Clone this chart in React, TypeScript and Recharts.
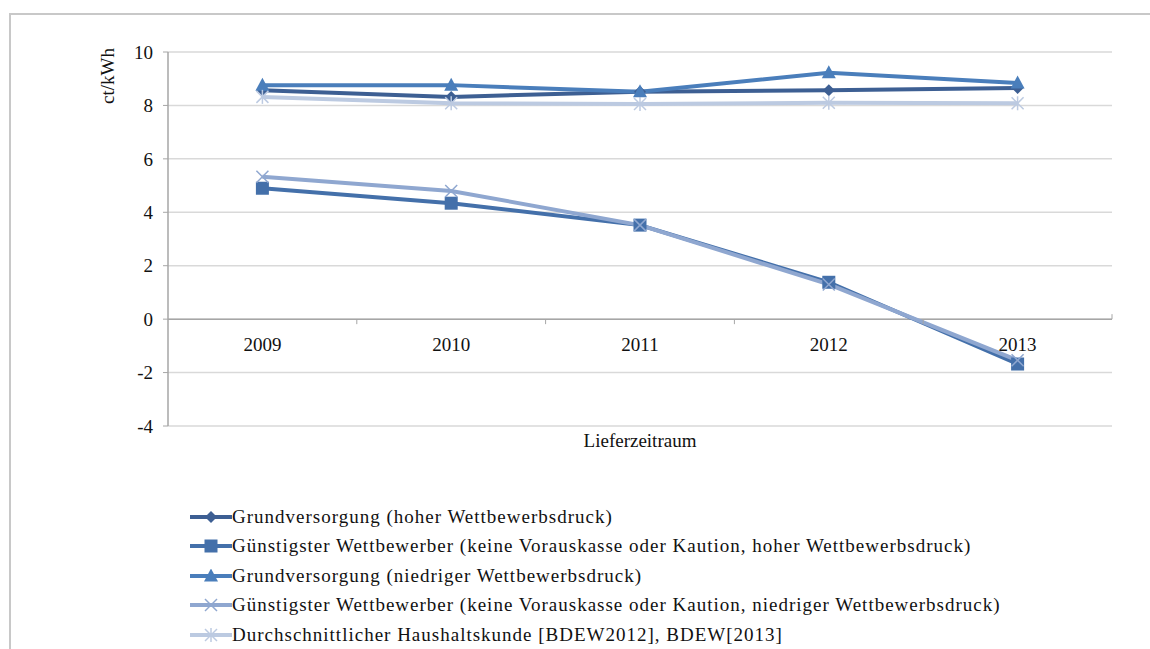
import React from 'react';
import { LineChart, Line, XAxis, YAxis, CartesianGrid, ReferenceLine } from 'recharts';

// Kategorien und Werte (ct/kWh)
const JAHRE = ['2009', '2010', '2011', '2012', '2013'];
const GV_HOCH = [8.57, 8.32, 8.51, 8.57, 8.65];
const GW_HOCH = [4.9, 4.34, 3.52, 1.38, -1.68];
const GV_NIEDRIG = [8.76, 8.76, 8.51, 9.22, 8.84];
const GW_NIEDRIG = [5.33, 4.8, 3.52, 1.3, -1.54];
const DURCHSCHNITT = [8.32, 8.08, 8.05, 8.1, 8.08];
const Y_TICKS = [-4, -2, 0, 2, 4, 6, 8, 10];

const SERIES = [
  { key: 'gvHoch', name: 'Grundversorgung (hoher Wettbewerbsdruck)', color: '#3d5f93', marker: 'diamond' },
  { key: 'gwHoch', name: 'Günstigster Wettbewerber (keine Vorauskasse oder Kaution, hoher Wettbewerbsdruck)', color: '#4470aa', marker: 'square' },
  { key: 'gvNiedrig', name: 'Grundversorgung (niedriger Wettbewerbsdruck)', color: '#4a7ebb', marker: 'triangle' },
  { key: 'gwNiedrig', name: 'Günstigster Wettbewerber (keine Vorauskasse oder Kaution, niedriger Wettbewerbsdruck)', color: '#8fa7d0', marker: 'x' },
  { key: 'schnitt', name: 'Durchschnittlicher Haushaltskunde [BDEW2012], BDEW[2013]', color: '#bccae1', marker: 'star' },
];

const data = JAHRE.map((jahr, i) => ({
  jahr,
  gvHoch: GV_HOCH[i],
  gwHoch: GW_HOCH[i],
  gvNiedrig: GV_NIEDRIG[i],
  gwNiedrig: GW_NIEDRIG[i],
  schnitt: DURCHSCHNITT[i],
}));

const FONT = '"Liberation Serif", serif';
const FS = 19;
const WIDTH = 1150;
const HEIGHT = 470;
const MARGIN = { top: 52, right: 38, left: 108, bottom: 14 };
const Y_AXIS_W = 60;
const X_AXIS_H = 30;
const Y_MIN = -4;
const Y_MAX = 10;
const PLOT_H = HEIGHT - MARGIN.top - MARGIN.bottom - X_AXIS_H;
const PLOT_W = WIDTH - MARGIN.left - MARGIN.right - Y_AXIS_W;
// y-Position der Nulllinie aus Domain und Plot-Höhe
const ZERO_Y = MARGIN.top + (PLOT_H * (Y_MAX - 0)) / (Y_MAX - Y_MIN);
const BAND = PLOT_W / JAHRE.length;

function Marker({ type, color, cx, cy }: { type: string; color: string; cx: number; cy: number }) {
  if (cx == null || cy == null) return null;
  switch (type) {
    case 'diamond':
      return <polygon points={`${cx},${cy - 6} ${cx + 6},${cy} ${cx},${cy + 6} ${cx - 6},${cy}`} fill={color} />;
    case 'square':
      return <rect x={cx - 6.5} y={cy - 6.5} width={13} height={13} fill={color} />;
    case 'triangle':
      return <polygon points={`${cx},${cy - 7.5} ${cx + 7},${cy + 5.5} ${cx - 7},${cy + 5.5}`} fill={color} />;
    case 'x':
      return (
        <g stroke={color} strokeWidth={1.5}>
          <line x1={cx - 6} y1={cy - 6} x2={cx + 6} y2={cy + 6} />
          <line x1={cx - 6} y1={cy + 6} x2={cx + 6} y2={cy - 6} />
        </g>
      );
    case 'star':
      return (
        <g stroke={color} strokeWidth={1.5}>
          <line x1={cx - 6} y1={cy - 6} x2={cx + 6} y2={cy + 6} />
          <line x1={cx - 6} y1={cy + 6} x2={cx + 6} y2={cy - 6} />
          <line x1={cx} y1={cy - 7} x2={cx} y2={cy + 7} />
        </g>
      );
    default:
      return null;
  }
}

// Kategorie-Beschriftung an der Nulllinie (Excel: Achse kreuzt bei 0)
function JahrTick(props: any) {
  const { x, payload, index } = props;
  const last = index === JAHRE.length - 1;
  return (
    <g>
      {index > 0 && <line x1={x - BAND / 2} y1={ZERO_Y} x2={x - BAND / 2} y2={ZERO_Y + 5} stroke="#a6a6a6" />}
      {last && <line x1={x + BAND / 2} y1={ZERO_Y - 5} x2={x + BAND / 2} y2={ZERO_Y} stroke="#a6a6a6" />}
      <text x={x} y={ZERO_Y + 32} textAnchor="middle" fontFamily={FONT} fontSize={FS} fill="#111">
        {payload.value}
      </text>
    </g>
  );
}

function LegendIcon({ color, marker }: { color: string; marker: string }) {
  return (
    <svg width={42} height={14} style={{ display: 'block' }}>
      <line x1={0} y1={7} x2={42} y2={7} stroke={color} strokeWidth={4} />
      <Marker type={marker} color={color} cx={21} cy={7} />
    </svg>
  );
}

export default function App() {
  return (
    <div style={{ position: 'absolute', left: 0, top: 0, width: WIDTH, height: 649, background: '#fff', overflow: 'hidden' }}>
      <div
        style={{
          position: 'absolute',
          left: 9,
          top: 13,
          width: 1200,
          height: 700,
          borderLeft: '2px solid #c8c8c8',
          borderTop: '2px solid #c8c8c8',
        }}
      />
      <div style={{ position: 'absolute', left: 0, top: 0 }}>
        <LineChart width={WIDTH} height={HEIGHT} data={data} margin={MARGIN}>
          <CartesianGrid horizontal vertical={false} stroke="#d9d9d9" strokeWidth={1.5} />
          <XAxis
            dataKey="jahr"
            height={X_AXIS_H}
            padding={{ left: BAND / 2, right: BAND / 2 }}
            axisLine={false}
            tickLine={false}
            tick={<JahrTick />}
            interval={0}
            label={(p: any) => {
              const vb = p.viewBox;
              return (
                <text x={vb.x + vb.width / 2} y={vb.y + 21} textAnchor="middle" fontFamily={FONT} fontSize={FS} fill="#111">
                  Lieferzeitraum
                </text>
              );
            }}
          />
          <YAxis
            width={Y_AXIS_W}
            domain={[Y_MIN, Y_MAX]}
            ticks={Y_TICKS}
            interval={0}
            axisLine={{ stroke: '#a6a6a6', strokeWidth: 1.5 }}
            tickLine={{ stroke: '#a6a6a6' }}
            tickSize={5}
            tickMargin={10}
            tick={{ fontFamily: FONT, fontSize: FS, fill: '#111' }}
            label={(p: any) => {
              const vb = p.viewBox;
              const lx = vb.x + 6;
              const ly = vb.y + 24;
              return (
                <text
                  x={lx}
                  y={ly}
                  transform={`rotate(-90, ${lx}, ${ly})`}
                  textAnchor="middle"
                  fontFamily={FONT}
                  fontSize={FS}
                  fill="#111"
                >
                  ct/kWh
                </text>
              );
            }}
          />
          <ReferenceLine y={0} stroke="#a6a6a6" strokeWidth={1.5} />
          {SERIES.map((s) => (
            <Line
              key={s.key}
              dataKey={s.key}
              name={s.name}
              type="linear"
              stroke={s.color}
              strokeWidth={4}
              dot={(p: any) => <Marker key={`${s.key}-${p.index}`} type={s.marker} color={s.color} cx={p.cx} cy={p.cy} />}
              activeDot={false}
              isAnimationActive={false}
            />
          ))}
        </LineChart>
      </div>
      <div style={{ position: 'absolute', left: 190, top: 502, fontFamily: FONT, fontSize: FS, color: '#111' }}>
        {SERIES.map((s) => (
          <div key={s.key} style={{ display: 'flex', alignItems: 'center', height: 29.5, whiteSpace: 'nowrap' }}>
            <LegendIcon color={s.color} marker={s.marker} />
            <span style={{ letterSpacing: 1 }}>{s.name}</span>
          </div>
        ))}
      </div>
    </div>
  );
}
